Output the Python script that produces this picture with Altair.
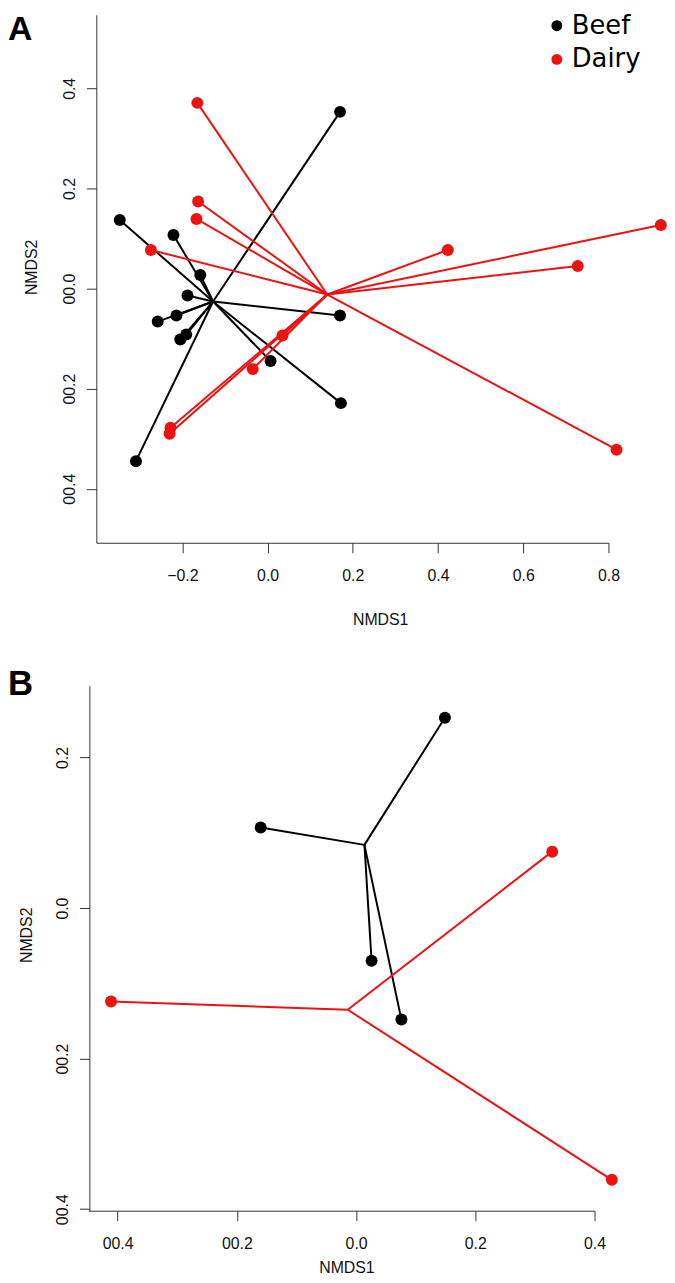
import altair as alt
import pandas as pd

# ---------------- Panel A data ----------------
a_beef_x = [0.170, -0.347, -0.221, -0.158, -0.188, -0.214, -0.258, -0.191, -0.205, 0.007, 0.170, 0.172, -0.309]
a_beef_y = [0.353, 0.137, 0.107, 0.027, -0.014, -0.054, -0.066, -0.092, -0.102, -0.145, -0.054, -0.229, -0.345]
a_dairy_x = [-0.165, -0.163, -0.167, -0.274, 0.423, 0.923, 0.728, 0.035, -0.035, -0.228, -0.230, 0.819]
a_dairy_y = [0.371, 0.174, 0.139, 0.077, 0.077, 0.127, 0.045, -0.094, -0.161, -0.278, -0.290, -0.322]
a_beef_centroid = [-0.128, -0.026]
a_dairy_centroid = [0.140, -0.012]
a_x_ticks = [-0.2, 0.0, 0.2, 0.4, 0.6, 0.8]
a_x_labels = ["\u22120.2", "0.0", "0.2", "0.4", "0.6", "0.8"]
a_y_ticks = [-0.4, -0.2, 0.0, 0.2, 0.4]
a_y_labels = ["00.4", "00.2", "00.0", "0.2", "0.4"]
a_x_domain = [-0.402, 0.8]
a_y_domain = [-0.508, 0.547]

# ---------------- Panel B data ----------------
b_beef_x = [-0.160, 0.149, 0.026, 0.076]
b_beef_y = [0.107, 0.253, -0.070, -0.148]
b_dairy_x = [-0.411, 0.329, 0.429]
b_dairy_y = [-0.124, 0.075, -0.361]
b_beef_centroid = [0.014, 0.084]
b_dairy_centroid = [-0.014, -0.135]
b_x_ticks = [-0.4, -0.2, 0.0, 0.2, 0.4]
b_x_labels = ["00.4", "00.2", "0.0", "0.2", "0.4"]
b_y_ticks = [-0.4, -0.2, 0.0, 0.2]
b_y_labels = ["00.4", "00.2", "0.0", "0.2"]
b_x_domain = [-0.4357, 0.4]
b_y_domain = [-0.402, 0.2955]

groups = ["Beef", "Dairy"]
colors = ["#000000", "#EE1111"]
FONT = "Liberation Sans"
AXIS_COLOR = "#333"


def make_df(bx, by, dx, dy, bc, dc):
    rows = []
    for x, y in zip(bx, by):
        rows.append({"x": x, "y": y, "cx": bc[0], "cy": bc[1], "group": "Beef"})
    for x, y in zip(dx, dy):
        rows.append({"x": x, "y": y, "cx": dc[0], "cy": dc[1], "group": "Dairy"})
    return pd.DataFrame(rows)


def label_expr(values, labels):
    expr = "''"
    for v, l in zip(values, labels):
        expr = f"(abs(datum.value - ({v})) < 1e-6) ? '{l}' : ({expr})"
    return expr


def x_axis(values, labels, title_x, title_y):
    return alt.Axis(
        values=values, labelExpr=label_expr(values, labels), grid=False,
        tickSize=10, tickColor=AXIS_COLOR, domainColor=AXIS_COLOR, labelColor="#111",
        labelFont=FONT, labelFontSize=16, labelPadding=15, labelFlush=False,
        labelOverlap=False, title="NMDS1", titleFont=FONT, titleFontSize=16,
        titleFontWeight="normal", titleColor="#111", titleX=title_x, titleY=title_y,
        titleAlign="center", titleBaseline="alphabetic", titleAngle=0,
    )


def y_axis(values, labels, title_x, title_y, offset=0):
    return alt.Axis(
        values=values, labelExpr=label_expr(values, labels), grid=False,
        tickSize=10, tickColor=AXIS_COLOR, domainColor=AXIS_COLOR, labelColor="#111",
        labelFont=FONT, labelFontSize=16, labelPadding=12, labelFlush=False,
        labelOverlap=False, labelAngle=270, labelAlign="center",
        labelBaseline="alphabetic", offset=offset,
        title="NMDS2", titleFont=FONT, titleFontSize=16,
        titleFontWeight="normal", titleColor="#111", titleX=title_x, titleY=title_y,
        titleAlign="center", titleBaseline="alphabetic", titleAngle=270,
    )


def panel(df, xdom, ydom, xax, yax, w, h, letter, letter_x, letter_y, letter_size,
          legend, corner=0):
    base = alt.Chart(df)
    xs = alt.Scale(domain=xdom, nice=False, zero=False)
    ys = alt.Scale(domain=ydom, nice=False, zero=False)
    cscale = alt.Scale(domain=groups, range=colors)
    rules = base.mark_rule(strokeWidth=2).encode(
        x=alt.X("cx:Q", scale=xs, axis=xax),
        y=alt.Y("cy:Q", scale=ys, axis=yax),
        x2="x:Q",
        y2="y:Q",
        color=alt.Color("group:N", scale=cscale, legend=legend),
    )
    pts = base.mark_circle(size=145, opacity=1).encode(
        x=alt.X("x:Q", scale=xs),
        y=alt.Y("y:Q", scale=ys),
        color=alt.Color("group:N", scale=cscale, legend=legend),
    )
    lab = alt.Chart(pd.DataFrame({"t": [letter]})).mark_text(
        align="left", baseline="top", fontSize=letter_size, fontWeight="bold",
        font=FONT, color="#000"
    ).encode(x=alt.value(letter_x), y=alt.value(letter_y), text="t:N")
    layers = [rules, pts, lab]
    if corner:
        # short piece joining the offset y-axis line to the x-axis line
        layers.append(
            alt.Chart(pd.DataFrame({"t": [0]})).mark_rule(color=AXIS_COLOR, strokeWidth=1).encode(
                x=alt.value(-corner - 0.5), x2=alt.value(0.5), y=alt.value(h + 0.5)
            )
        )
    return alt.layer(*layers).properties(width=w, height=h)


legend_a = alt.Legend(
    orient="none", legendX=451, legendY=-2, title=None, labelFontSize=26,
    labelFont="DejaVu Sans", labelColor="#000", symbolType="circle", symbolSize=120,
    symbolStrokeWidth=0, symbolOpacity=1, labelOffset=2,
    rowPadding=8, padding=0,
)

df_a = make_df(a_beef_x, a_beef_y, a_dairy_x, a_dairy_y, a_beef_centroid, a_dairy_centroid)
df_b = make_df(b_beef_x, b_beef_y, b_dairy_x, b_dairy_y, b_beef_centroid, b_dairy_centroid)

chart_a = panel(
    df_a, a_x_domain, a_y_domain,
    x_axis(a_x_ticks, a_x_labels, 286, 82),
    y_axis(a_y_ticks, a_y_labels, -60, 254),
    516, 532, "A", -89, -2, 34, legend_a,
)
chart_b = panel(
    df_b, b_x_domain, b_y_domain,
    x_axis(b_x_ticks, b_x_labels, 252, 62),
    y_axis(b_y_ticks, b_y_labels, -58, 251, offset=7),
    502, 529, "B", -89, -19, 35, None, corner=7,
)

chart = (
    alt.vconcat(chart_a, chart_b, spacing=40)
    .resolve_scale(color="independent")
    .resolve_legend(color="independent")
    .properties(padding=0)
    .configure_view(stroke=None)
)

chart.save("out.html", embed_options={"renderer": "svg", "actions": False})
